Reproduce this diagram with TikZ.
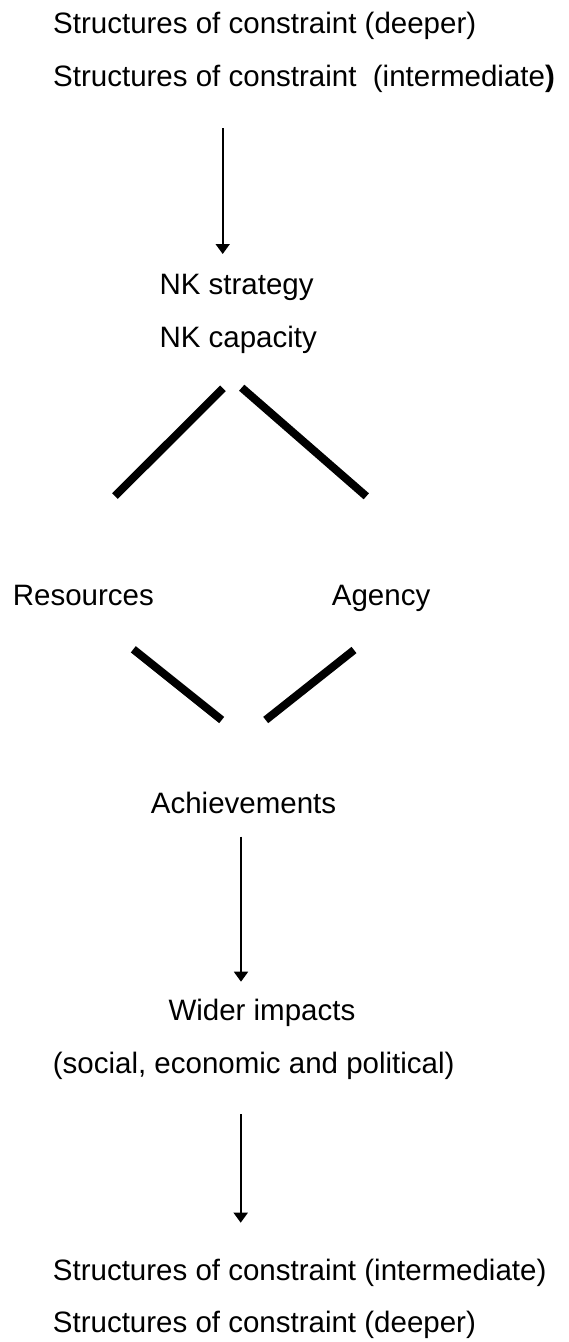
\documentclass[tikz,border=0pt]{standalone}
\usepackage{fontspec}
\setmainfont{Liberation Sans}
\usetikzlibrary{arrows.meta}
\begin{document}
\begin{tikzpicture}[x=1pt,y=-1pt,
  label/.style={anchor=base west,inner sep=0pt,font=\fontsize{29.5}{35}\selectfont},
  flow/.style={line width=1.8pt,-{Triangle[width=14pt,length=10pt]}},
  link/.style={line width=8pt,line cap=butt}]
\useasboundingbox (0,0) rectangle (568,1342);

% text blocks
\node[label] (top1) at (53,33.3) {Structures of constraint (deeper)};
\node[label] (top2) at (53,86) {Structures of constraint\ \ (intermediate\textbf{)}};
\node[label] (nks) at (159.3,294.3) {NK strategy};
\node[label] (nkc) at (159.3,347) {NK capacity};
\node[label] (res) at (12.6,605) {Resources};
\node[label] (agy) at (331.7,605) {Agency};
\node[label] (ach) at (150.7,813.3) {Achievements};
\node[label] (wid) at (168.3,1020.7) {Wider impacts};
\node[label] (wid2) at (52.7,1073) {(social, economic and political)};
\node[label] (bot1) at (52.7,1280.7) {Structures of constraint (intermediate)};
\node[label] (bot2) at (52.7,1332.7) {Structures of constraint (deeper)};

% arrow end points
\coordinate (a1s) at (222.7,128.3);
\coordinate (a1e) at (222.7,254);
\coordinate (a2s) at (241,836.7);
\coordinate (a2e) at (241,981.7);
\coordinate (a3s) at (240.7,1114);
\coordinate (a3e) at (240.7,1222.7);

\draw[flow] (a1s) -- (a1e);
\draw[flow] (a2s) -- (a2e);
\draw[flow] (a3s) -- (a3e);

% heavy branch lines
\coordinate (ul1) at (223,388.3);
\coordinate (ul2) at (115,496);
\coordinate (ur1) at (241.7,387.7);
\coordinate (ur2) at (366.3,496.3);
\coordinate (ll1) at (133.3,649.3);
\coordinate (ll2) at (221.7,720);
\coordinate (lr1) at (354,650);
\coordinate (lr2) at (265.7,720);

\draw[link] (ul1) -- (ul2);
\draw[link] (ur1) -- (ur2);
\draw[link] (ll1) -- (ll2);
\draw[link] (lr1) -- (lr2);
\end{tikzpicture}
\end{document}
